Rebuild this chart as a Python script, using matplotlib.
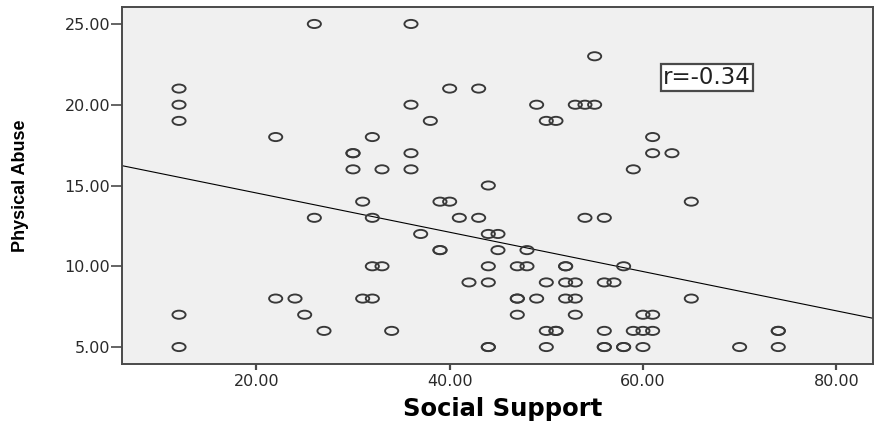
import numpy as np
import matplotlib.pyplot as plt
from matplotlib.path import Path
from matplotlib.ticker import FormatStrFormatter

# points read row by row (y value per row), duplicates kept where the ring looks heavier
social_support = [26, 36,
                  55,
                  12, 40, 43,
                  12, 36, 49, 53, 54, 55,
                  12, 38, 50, 51,
                  22, 32, 61,
                  30, 30, 36, 61, 63,
                  30, 33, 36, 59,
                  44,
                  31, 39, 40, 65,
                  26, 32, 41, 43, 54, 56,
                  37, 44, 45,
                  39, 39, 45, 48,
                  32, 33, 44, 47, 48, 52, 52, 58,
                  42, 44, 50, 52, 53, 56, 57,
                  22, 24, 31, 32, 47, 47, 49, 52, 53, 65,
                  12, 25, 47, 53, 60, 61,
                  27, 34, 50, 51, 51, 56, 59, 60, 61, 74, 74,
                  12, 44, 44, 50, 56, 56, 58, 58, 60, 70, 74]
physical_abuse = [25, 25,
                  23,
                  21, 21, 21,
                  20, 20, 20, 20, 20, 20,
                  19, 19, 19, 19,
                  18, 18, 18,
                  17, 17, 17, 17, 17,
                  16, 16, 16, 16,
                  15,
                  14, 14, 14, 14,
                  13, 13, 13, 13, 13, 13,
                  12, 12, 12,
                  11, 11, 11, 11,
                  10, 10, 10, 10, 10, 10, 10, 10,
                  9, 9, 9, 9, 9, 9, 9,
                  8, 8, 8, 8, 8, 8, 8, 8, 8, 8,
                  7, 7, 7, 7, 7, 7,
                  6, 6, 6, 6, 6, 6, 6, 6, 6, 6, 6,
                  5, 5, 5, 5, 5, 5, 5, 5, 5, 5, 5]

# fit line as drawn in the picture
fit_intercept = 16.97
fit_slope = -0.1216
r_label = 'r=-0.34'

x_ticks = [20, 40, 60, 80]
y_ticks = [5, 10, 15, 20, 25]

# the original export is stretched sideways, so the rings are flat ellipses
ring = Path.unit_circle()
ring = Path(ring.vertices * np.array([1.0, 0.62]), ring.codes)

fig = plt.figure(figsize=(8.77, 4.22), dpi=100)
ax = fig.add_axes([122 / 877, 58 / 422, 751 / 877, 357 / 422])
ax.set_facecolor('#f0f0f0')

ax.scatter(social_support, physical_abuse, marker=ring, s=90,
           facecolors='none', edgecolors='#383838', linewidths=1.35, zorder=3)
ax.axline((0, fit_intercept), slope=fit_slope, color='black', lw=0.8, zorder=2)

ax.set_xlim(6.1, 83.8)
ax.set_ylim(3.95, 26.05)
ax.set_xticks(x_ticks)
ax.set_yticks(y_ticks)
ax.xaxis.set_major_formatter(FormatStrFormatter('%.2f'))
ax.yaxis.set_major_formatter(FormatStrFormatter('%.2f'))

for s in ax.spines.values():
    s.set_color('#4a4a4a')
    s.set_linewidth(1.4)

ax.tick_params(axis='x', length=4.5, width=1.6, color='#4a4a4a', pad=3,
               labelsize=11.5, labelcolor='#2a2a2a')
ax.tick_params(axis='y', length=8, width=1.2, color='#4a4a4a', pad=0.5,
               labelsize=11.5, labelcolor='#2a2a2a')

ax.set_xlabel('Social Support', fontsize=17.5, fontweight='bold', va='center')
ax.xaxis.set_label_coords(0.507, -0.126)
ax.set_ylabel('Physical Abuse', fontsize=13, fontweight='bold', va='center',
              family=['Liberation Sans Narrow', 'DejaVu Sans Condensed',
                      'Liberation Sans'])
ax.yaxis.set_label_coords(-0.1345, 0.5)

ax.text(0.779, 0.8025, r_label, transform=ax.transAxes, fontsize=16.5,
        ha='center', va='center', color='#222222',
        bbox=dict(boxstyle='square,pad=0.1', fc='white', ec='#4a4a4a', lw=1.6))

fig.savefig('out.png', dpi=100)
